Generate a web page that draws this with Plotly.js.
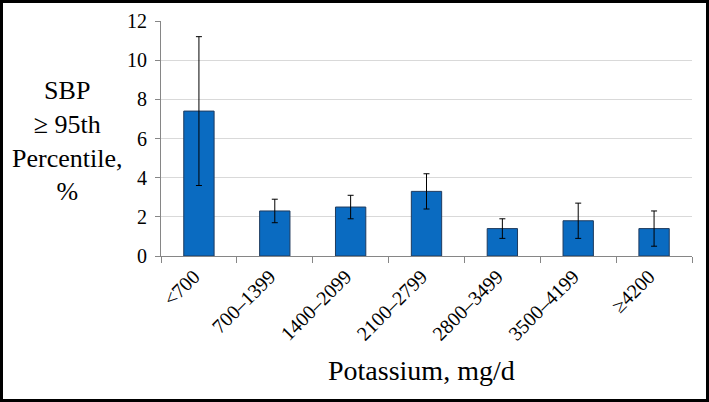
<!DOCTYPE html>
<html>
<head>
<meta charset="utf-8">
<script src="https://cdn.plot.ly/plotly-3.0.1.min.js"></script>
<style>
html,body{margin:0;padding:0;background:#fff;}
#wrap{width:709px;height:402px;box-sizing:border-box;border:3px solid #000;background:#fff;}
#chart{width:703px;height:396px;}
</style>
</head>
<body>
<div id="wrap"><div id="chart"></div></div>
<script>
const categories = ["<700", "700–1399", "1400–2099", "2100–2799", "2800–3499", "3500–4199", "≥4200"];
const values = [7.4, 2.3, 2.5, 3.3, 1.4, 1.8, 1.4];
const upper = [11.2, 2.9, 3.1, 4.2, 1.9, 2.7, 2.3];
const lower = [3.6, 1.7, 1.9, 2.4, 0.9, 0.9, 0.5];
const yTitleLines = ["SBP", "≥ 95th", "Percentile,", "%"];
const xTitle = "Potassium, mg/d";

const errPlus = values.map((v, i) => +(upper[i] - v).toFixed(3));
const errMinus = values.map((v, i) => +(v - lower[i]).toFixed(3));

const font = "Liberation Serif";

const trace = {
  type: "bar",
  x: categories,
  y: values,
  marker: {color: "#0A6BC1", line: {color: "#1F3B5E", width: 1}},
  error_y: {
    type: "data", symmetric: false,
    array: errPlus, arrayminus: errMinus,
    color: "#000", thickness: 1, width: 3
  },
  hoverinfo: "none"
};

const layout = {
  width: 703, height: 396,
  margin: {l: 158, r: 14, t: 18, b: 143},
  paper_bgcolor: "#fff", plot_bgcolor: "#fff",
  bargap: 0.6,
  showlegend: false,
  font: {family: font, color: "#000"},
  xaxis: {
    type: "category",
    tickangle: -45,
    tickfont: {family: font, size: 20, color: "#000"},
    ticks: "outside", tickson: "boundaries", ticklen: 6, tickcolor: "#868686",
    ticklabelshift: -5,
    showline: true, linecolor: "#868686", linewidth: 1,
    showgrid: false, zeroline: false
  },
  yaxis: {
    range: [0, 12], dtick: 2,
    tickfont: {family: font, size: 20, color: "#000"},
    ticks: "outside", ticklen: 5, tickcolor: "#868686",
    ticklabelstandoff: 4,
    showline: true, linecolor: "#868686", linewidth: 1,
    showgrid: true, gridcolor: "#D9D9D9", gridwidth: 1,
    zeroline: false
  },
  annotations: [
    {
      text: yTitleLines.join("<br>"),
      xref: "paper", yref: "paper", x: -0.177, y: 0.489,
      xanchor: "center", yanchor: "middle", showarrow: false, align: "center",
      font: {family: font, size: 26, color: "#000"}
    },
    {
      text: xTitle,
      xref: "paper", yref: "paper", x: 0.4915, y: -0.489,
      xanchor: "center", yanchor: "middle", showarrow: false,
      font: {family: font, size: 28, color: "#000"}
    }
  ]
};

Plotly.newPlot("chart", [trace], layout, {displayModeBar: false, staticPlot: true});
</script>
</body>
</html>
